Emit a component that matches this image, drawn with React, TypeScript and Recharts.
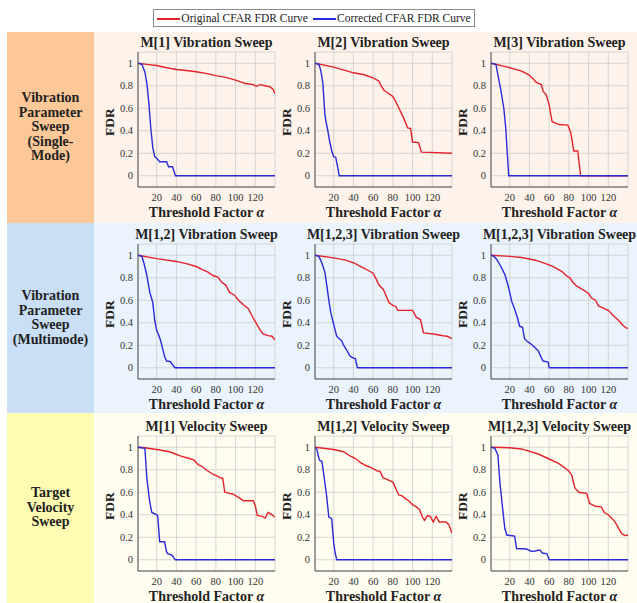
import React from "react";
import { CartesianGrid, Line, LineChart, XAxis, YAxis } from "recharts";

type Pt = [number, number];

const SERIF = '"Liberation Serif", "DejaVu Serif", serif';
const RED = "#e3232b";
const BLUE = "#2a2ad8";
const FRAME = "#4f4f4f";
const GRID = "#cdcdcd";
const INK = "#222";

const ALPHA_TICKS = [20, 40, 60, 80, 100, 120];
const ALPHA_MINOR = [5, 10, 15, 25, 30, 35, 45, 50, 55, 65, 70, 75, 85, 90, 95, 105, 110, 115, 125, 130, 135];
const FDR_TICKS = [0, 0.2, 0.4, 0.6, 0.8, 1];
const FDR_MINOR = [-0.05, 0.05, 0.1, 0.15, 0.25, 0.3, 0.35, 0.45, 0.5, 0.55, 0.65, 0.7, 0.75, 0.85, 0.9, 0.95, 1.05];
const ALPHA_DOMAIN: [number, number] = [1, 140];
const FDR_DOMAIN: [number, number] = [-0.1, 1.1];

// (threshold factor, FDR) pairs for each sweep
const m1VibOriginal: Pt[] = [[1, 1], [10, 0.99], [20, 0.98], [30, 0.96], [40, 0.945], [50, 0.935], [60, 0.925], [70, 0.91], [80, 0.89], [90, 0.875], [100, 0.85], [105, 0.835], [110, 0.82], [118, 0.81], [121, 0.795], [125, 0.81], [130, 0.8], [135, 0.79], [138, 0.77], [140, 0.73]];
const m1VibCorrected: Pt[] = [[1, 1], [5, 0.99], [8, 0.92], [10, 0.82], [12, 0.65], [14, 0.42], [16, 0.25], [18, 0.17], [20, 0.155], [23, 0.125], [30, 0.125], [32, 0.08], [36, 0.08], [39, 0], [140, 0]];

const m2VibOriginal: Pt[] = [[1, 1], [20, 0.965], [40, 0.915], [50, 0.9], [60, 0.87], [66, 0.84], [68, 0.8], [71, 0.76], [80, 0.705], [84, 0.64], [90, 0.53], [93, 0.47], [95, 0.425], [98, 0.42], [100, 0.3], [106, 0.295], [109, 0.21], [140, 0.2]];
const m2VibCorrected: Pt[] = [[1, 1], [5, 0.99], [7, 0.93], [9, 0.82], [11, 0.55], [12, 0.49], [14, 0.4], [16, 0.3], [18, 0.22], [20, 0.17], [22, 0.165], [23, 0.12], [24, 0.08], [25.5, 0], [140, 0]];

const m3VibOriginal: Pt[] = [[1, 1], [18, 0.965], [32, 0.93], [39, 0.9], [44, 0.86], [47, 0.83], [52, 0.81], [54, 0.75], [57, 0.72], [60, 0.63], [63, 0.48], [67, 0.465], [70, 0.455], [79, 0.45], [82, 0.38], [85, 0.22], [89, 0.22], [92, 0], [140, 0]];
const m3VibCorrected: Pt[] = [[1, 1], [6, 0.99], [9, 0.85], [11, 0.76], [14, 0.6], [16, 0.42], [17.5, 0.2], [19, 0], [140, 0]];

const m12VibOriginal: Pt[] = [[1, 1], [20, 0.97], [40, 0.945], [50, 0.925], [60, 0.9], [67, 0.87], [72, 0.85], [77, 0.82], [82, 0.805], [86, 0.76], [90, 0.735], [94, 0.67], [99, 0.645], [103, 0.6], [108, 0.56], [113, 0.525], [118, 0.44], [121, 0.395], [125, 0.335], [128, 0.3], [133, 0.285], [137, 0.28], [140, 0.245]];
const m12VibCorrected: Pt[] = [[1, 1], [5, 0.99], [7, 0.93], [10, 0.82], [13, 0.67], [16, 0.58], [18, 0.42], [20, 0.33], [22, 0.29], [24, 0.24], [26, 0.17], [28, 0.1], [30, 0.06], [34, 0.055], [35, 0.04], [38.5, 0], [140, 0]];

const m123VibOriginalA: Pt[] = [[1, 1], [20, 0.977], [32, 0.957], [41, 0.93], [46, 0.906], [52, 0.88], [56, 0.86], [60, 0.84], [63, 0.79], [65, 0.75], [67, 0.725], [70, 0.7], [72, 0.665], [76, 0.58], [80, 0.555], [83, 0.545], [85, 0.51], [100, 0.51], [104, 0.445], [108, 0.43], [111, 0.31], [121, 0.3], [131, 0.285], [135, 0.28], [140, 0.26]];
const m123VibCorrectedA: Pt[] = [[1, 1], [5, 0.99], [8, 0.93], [11, 0.85], [13, 0.73], [15, 0.6], [17, 0.49], [19, 0.42], [21, 0.35], [23, 0.28], [26, 0.255], [28, 0.24], [30, 0.2], [33, 0.16], [36, 0.11], [38, 0.095], [42, 0.08], [44, 0], [140, 0]];

const m123VibOriginalB: Pt[] = [[1, 1], [20, 0.99], [32, 0.98], [46, 0.956], [60, 0.915], [66, 0.89], [73, 0.855], [78, 0.815], [81, 0.8], [84, 0.76], [88, 0.725], [95, 0.69], [100, 0.66], [103, 0.62], [107, 0.6], [110, 0.55], [115, 0.53], [120, 0.51], [125, 0.465], [130, 0.425], [135, 0.375], [138, 0.355], [140, 0.35]];
const m123VibCorrectedB: Pt[] = [[1, 1], [4, 0.99], [7, 0.96], [11, 0.9], [15, 0.83], [18, 0.74], [20, 0.67], [22, 0.59], [25, 0.52], [28, 0.44], [30, 0.37], [33, 0.36], [35, 0.26], [37, 0.24], [41, 0.215], [45, 0.185], [49, 0.15], [52, 0.09], [54, 0.06], [57, 0.055], [59, 0.05], [60, 0], [140, 0]];

const m1VelOriginal: Pt[] = [[1, 1], [8, 0.995], [20, 0.98], [33, 0.96], [39, 0.94], [43, 0.925], [53, 0.9], [58, 0.885], [62, 0.845], [65, 0.835], [70, 0.8], [77, 0.76], [81, 0.745], [84, 0.73], [87, 0.725], [89, 0.6], [94, 0.59], [97, 0.585], [103, 0.555], [108, 0.525], [118, 0.525], [120, 0.48], [122, 0.395], [127, 0.385], [130, 0.37], [133, 0.42], [136, 0.405], [140, 0.38]];
const m1VelCorrected: Pt[] = [[1, 1], [8, 0.99], [10, 0.72], [13, 0.51], [15, 0.42], [20, 0.4], [21, 0.39], [23, 0.16], [28, 0.16], [30, 0.07], [31, 0.055], [34, 0.045], [36, 0.035], [38, 0.01], [39, 0], [140, 0]];

const m12VelOriginal: Pt[] = [[1, 1], [20, 0.98], [30, 0.96], [37, 0.92], [42, 0.9], [47, 0.865], [52, 0.84], [59, 0.815], [64, 0.79], [67, 0.785], [70, 0.73], [74, 0.715], [80, 0.69], [86, 0.576], [89, 0.57], [92, 0.548], [96, 0.525], [100, 0.49], [104, 0.47], [107, 0.447], [110, 0.38], [112, 0.35], [115, 0.39], [118, 0.385], [121, 0.335], [124, 0.385], [127, 0.335], [134, 0.335], [137, 0.31], [140, 0.235]];
const m12VelCorrected: Pt[] = [[1, 1], [3, 0.98], [5, 0.9], [6, 0.88], [8, 0.875], [10, 0.75], [12, 0.62], [13, 0.55], [15, 0.38], [17, 0.37], [18, 0.365], [19, 0.25], [20, 0.15], [21.5, 0.06], [23, 0], [140, 0]];

const m123VelOriginal: Pt[] = [[1, 1], [20, 0.995], [32, 0.985], [49, 0.94], [59, 0.9], [70, 0.855], [80, 0.79], [83, 0.75], [86, 0.64], [90, 0.6], [98, 0.59], [101, 0.5], [107, 0.475], [113, 0.47], [116, 0.42], [120, 0.4], [124, 0.365], [127, 0.335], [131, 0.27], [134, 0.23], [137, 0.215], [140, 0.22]];
const m123VelCorrected: Pt[] = [[1, 1], [5, 0.99], [8, 0.93], [10, 0.69], [12.5, 0.48], [15, 0.28], [17, 0.22], [25, 0.21], [27, 0.1], [37, 0.095], [42, 0.075], [46, 0.078], [49, 0.085], [51, 0.085], [53, 0.06], [57, 0.055], [58, 0.05], [60, 0], [140, 0]];

const ROW_LABELS = [
  ["Vibration", "Parameter", "Sweep", "(Single-", "Mode)"],
  ["Vibration", "Parameter", "Sweep", "(Multimode)"],
  ["Target", "Velocity", "Sweep"],
];

const PANEL_TITLES = [
  ["M[1] Vibration Sweep", "M[2] Vibration Sweep", "M[3] Vibration Sweep"],
  ["M[1,2] Vibration Sweep", "M[1,2,3] Vibration Sweep", "M[1,2,3] Vibration Sweep"],
  ["M[1] Velocity Sweep", "M[1,2] Velocity Sweep", "M[1,2,3] Velocity Sweep"],
];

const PANEL_SERIES: [Pt[], Pt[]][][] = [
  [[m1VibOriginal, m1VibCorrected], [m2VibOriginal, m2VibCorrected], [m3VibOriginal, m3VibCorrected]],
  [[m12VibOriginal, m12VibCorrected], [m123VibOriginalA, m123VibCorrectedA], [m123VibOriginalB, m123VibCorrectedB]],
  [[m1VelOriginal, m1VelCorrected], [m12VelOriginal, m12VelCorrected], [m123VelOriginal, m123VelCorrected]],
];

const ROW_BANDS = [
  { top: 32, height: 191, label: "#fdc898", panel: "#fdf3ea" },
  { top: 223, height: 190, label: "#c8dff6", panel: "#ebf3fc" },
  { top: 413, height: 190, label: "#fefcb3", panel: "#fefdf0" },
];

// plot-area placement (px)
const COL_LEFT = [138, 315, 491];
const ROW_TOP = [52, 244, 436];
const PW = 137;
const PH = 135;
const Y_AXIS_W = 44;

const toRows = (pts: Pt[]) => pts.map(([a, f]) => ({ a, f }));
const fmtFdr = (v: number) => String(+v.toFixed(1));

const tickFont = { fontSize: 10.5, fill: "#333", fontFamily: SERIF };

function SweepChart({ title, series, left, top }: { title: string; series: [Pt[], Pt[]]; left: number; top: number }) {
  const [original, corrected] = series;
  return (
    <>
      <div
        style={{
          position: "absolute",
          left: left + PW / 2,
          top: top - 17,
          transform: "translateX(-50%)",
          whiteSpace: "nowrap",
          font: `bold 14px/16px ${SERIF}`,
          color: INK,
        }}
      >
        {title}
      </div>
      <div style={{ position: "absolute", left: left - Y_AXIS_W, top: top - 4 }}>
        <LineChart width={Y_AXIS_W + PW + 6} height={4 + PH + 20} margin={{ top: 4, right: 6, bottom: 0, left: 0 }}>
          <CartesianGrid xAxisId="x" yAxisId="y" stroke={GRID} strokeWidth={0.8} />
          {/* labelled axes: bottom and left edges of the frame */}
          <XAxis
            xAxisId="x"
            dataKey="a"
            type="number"
            domain={ALPHA_DOMAIN}
            allowDataOverflow
            ticks={ALPHA_TICKS}
            interval={0}
            tickLine={false}
            tickSize={6}
            tickMargin={1}
            height={20}
            axisLine={{ stroke: FRAME }}
            tick={tickFont}
          />
          <YAxis
            yAxisId="y"
            type="number"
            domain={FDR_DOMAIN}
            allowDataOverflow
            ticks={FDR_TICKS}
            interval={0}
            tickFormatter={fmtFdr}
            tickLine={false}
            tickSize={3}
            tickMargin={2}
            width={Y_AXIS_W}
            axisLine={{ stroke: FRAME }}
            tick={tickFont}
          />
          {/* inward frame ticks */}
          <XAxis xAxisId="bMin" type="number" domain={ALPHA_DOMAIN} allowDataOverflow mirror height={0} ticks={ALPHA_MINOR} interval={0} tick={false} tickSize={2} axisLine={false} tickLine={{ stroke: FRAME }} />
          <XAxis xAxisId="bMaj" type="number" domain={ALPHA_DOMAIN} allowDataOverflow mirror height={0} ticks={ALPHA_TICKS} interval={0} tick={false} tickSize={4} axisLine={false} tickLine={{ stroke: FRAME }} />
          <XAxis xAxisId="tMin" orientation="top" type="number" domain={ALPHA_DOMAIN} allowDataOverflow mirror height={0} ticks={ALPHA_MINOR} interval={0} tick={false} tickSize={2} axisLine={{ stroke: FRAME }} tickLine={{ stroke: FRAME }} />
          <XAxis xAxisId="tMaj" orientation="top" type="number" domain={ALPHA_DOMAIN} allowDataOverflow mirror height={0} ticks={ALPHA_TICKS} interval={0} tick={false} tickSize={4} axisLine={false} tickLine={{ stroke: FRAME }} />
          <YAxis yAxisId="lMin" type="number" domain={FDR_DOMAIN} allowDataOverflow mirror width={0} ticks={FDR_MINOR} interval={0} tick={false} tickSize={2} axisLine={false} tickLine={{ stroke: FRAME }} />
          <YAxis yAxisId="lMaj" type="number" domain={FDR_DOMAIN} allowDataOverflow mirror width={0} ticks={FDR_TICKS} interval={0} tick={false} tickSize={4} axisLine={false} tickLine={{ stroke: FRAME }} />
          <YAxis yAxisId="rMin" orientation="right" type="number" domain={FDR_DOMAIN} allowDataOverflow mirror width={0} ticks={FDR_MINOR} interval={0} tick={false} tickSize={2} axisLine={{ stroke: FRAME }} tickLine={{ stroke: FRAME }} />
          <YAxis yAxisId="rMaj" orientation="right" type="number" domain={FDR_DOMAIN} allowDataOverflow mirror width={0} ticks={FDR_TICKS} interval={0} tick={false} tickSize={4} axisLine={false} tickLine={{ stroke: FRAME }} />
          <Line xAxisId="x" yAxisId="y" data={toRows(original)} dataKey="f" type="linear" stroke={RED} strokeWidth={1.4} dot={false} isAnimationActive={false} />
          <Line xAxisId="x" yAxisId="y" data={toRows(corrected)} dataKey="f" type="linear" stroke={BLUE} strokeWidth={1.4} dot={false} isAnimationActive={false} />
        </LineChart>
      </div>
      <div
        style={{
          position: "absolute",
          left: left - 28,
          top: top + PH / 2 + 2,
          transform: "translate(-50%, -50%) rotate(-90deg)",
          whiteSpace: "nowrap",
          font: `bold 13.5px/16px ${SERIF}`,
          color: INK,
        }}
      >
        FDR
      </div>
      <div
        style={{
          position: "absolute",
          left: left + PW / 2,
          top: top + PH + 18,
          transform: "translateX(-50%)",
          whiteSpace: "nowrap",
          font: `bold 14px/16px ${SERIF}`,
          color: INK,
        }}
      >
        Threshold Factor <span style={{ fontStyle: "italic" }}>α</span>
      </div>
    </>
  );
}

function LegendBox() {
  const swatch = (color: string) => (
    <span style={{ display: "inline-block", width: 23, height: 2, background: color, verticalAlign: "middle", marginRight: 1 }} />
  );
  return (
    <div
      style={{
        position: "absolute",
        left: 153,
        top: 9,
        width: 320,
        height: 16,
        border: "1px solid #8a8a8a",
        background: "#fff",
        display: "flex",
        alignItems: "center",
        justifyContent: "center",
        gap: 5,
        font: `11.5px/16px ${SERIF}`,
        color: INK,
        whiteSpace: "nowrap",
      }}
    >
      <span>{swatch(RED)}Original CFAR FDR Curve</span>
      <span>{swatch(BLUE)}Corrected CFAR FDR Curve</span>
    </div>
  );
}

export default function App() {
  return (
    <div style={{ position: "absolute", left: 0, top: 0, width: 637, height: 603, overflow: "hidden", background: "#fff" }}>
      {ROW_BANDS.map((band, r) => (
        <React.Fragment key={r}>
          <div style={{ position: "absolute", left: 94, top: band.top, width: 543, height: band.height, background: band.panel }} />
          <div
            style={{
              position: "absolute",
              left: 7,
              top: band.top,
              width: 87,
              height: band.height,
              background: band.label,
              display: "flex",
              flexDirection: "column",
              alignItems: "center",
              justifyContent: "center",
              font: `bold 14px/14.5px ${SERIF}`,
              color: INK,
              textAlign: "center",
            }}
          >
            {ROW_LABELS[r].map((line) => (
              <div key={line}>{line}</div>
            ))}
          </div>
        </React.Fragment>
      ))}
      <LegendBox />
      {PANEL_TITLES.map((titles, r) =>
        titles.map((title, c) => (
          <SweepChart key={`${r}-${c}`} title={title} series={PANEL_SERIES[r][c]} left={COL_LEFT[c]} top={ROW_TOP[r]} />
        ))
      )}
    </div>
  );
}
